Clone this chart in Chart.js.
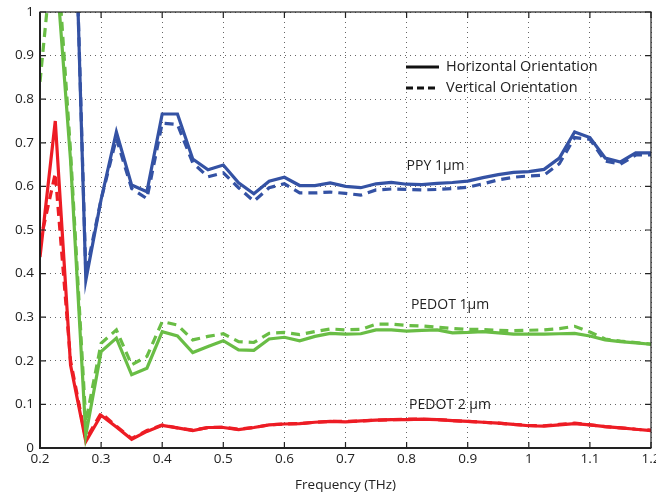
<!DOCTYPE html>
<html lang="en">
<head>
    <meta charset="UTF-8">
    <title>Frequency (THz)</title>
    <script src="https://cdn.jsdelivr.net/npm/chart.js"></script>
    <style>
        body { margin: 0; background: #fff; }
        #wrap { width: 656px; height: 493px; }
    </style>
</head>
<body>
    <div id="wrap"><canvas id="chart" width="656" height="493"></canvas></div>

    <script>
        // frequency points (THz)
        const freq = [0.2, 0.225, 0.25, 0.275, 0.3, 0.325, 0.35, 0.375, 0.4, 0.425,
            0.45, 0.475, 0.5, 0.525, 0.55, 0.575, 0.6, 0.625, 0.65, 0.675,
            0.7, 0.725, 0.75, 0.775, 0.8, 0.825, 0.85, 0.875, 0.9, 0.925,
            0.95, 0.975, 1.0, 1.025, 1.05, 1.075, 1.1, 1.125, 1.15, 1.175, 1.2];

        // PPY 1um
        const ppyH = [1.8, 1.9, 1.6, 0.385, 0.57, 0.725, 0.603, 0.588, 0.766, 0.766,
            0.663, 0.638, 0.649, 0.608, 0.583, 0.612, 0.621, 0.602, 0.602, 0.608,
            0.600, 0.597, 0.606, 0.609, 0.605, 0.604, 0.607, 0.609, 0.612, 0.620,
            0.627, 0.632, 0.634, 0.639, 0.665, 0.725, 0.712, 0.665, 0.656, 0.677, 0.677];
        const ppyV = [1.8, 1.9, 1.6, 0.40, 0.57, 0.71, 0.595, 0.572, 0.745, 0.742,
            0.654, 0.622, 0.631, 0.597, 0.566, 0.597, 0.606, 0.585, 0.585, 0.587,
            0.584, 0.580, 0.592, 0.594, 0.593, 0.592, 0.593, 0.595, 0.598, 0.606,
            0.615, 0.621, 0.624, 0.626, 0.652, 0.712, 0.708, 0.658, 0.651, 0.672, 0.672];

        // PEDOT 1um
        const pedot1H = [1.1, 1.13, 0.66, 0.03, 0.221, 0.252, 0.168, 0.183, 0.267, 0.257,
            0.219, 0.233, 0.246, 0.225, 0.224, 0.250, 0.254, 0.246, 0.256, 0.263,
            0.261, 0.262, 0.271, 0.271, 0.268, 0.270, 0.271, 0.264, 0.265, 0.267,
            0.264, 0.261, 0.261, 0.261, 0.262, 0.263, 0.257, 0.248, 0.244, 0.241, 0.238];
        const pedot1V = [0.84, 1.2, 0.68, 0.06, 0.24, 0.271, 0.191, 0.21, 0.29, 0.282,
            0.248, 0.256, 0.262, 0.244, 0.242, 0.263, 0.265, 0.260, 0.267, 0.273,
            0.271, 0.272, 0.284, 0.284, 0.281, 0.280, 0.277, 0.274, 0.272, 0.272,
            0.270, 0.269, 0.270, 0.271, 0.274, 0.279, 0.266, 0.250, 0.245, 0.242, 0.238];

        // PEDOT 2um
        const pedot2H = [0.438, 0.75, 0.19, 0.015, 0.075, 0.048, 0.02, 0.038, 0.052, 0.046,
            0.040, 0.047, 0.047, 0.042, 0.047, 0.053, 0.055, 0.056, 0.059, 0.061,
            0.060, 0.062, 0.064, 0.065, 0.065, 0.066, 0.065, 0.063, 0.061, 0.059,
            0.057, 0.054, 0.051, 0.050, 0.053, 0.056, 0.053, 0.049, 0.046, 0.043, 0.040];
        const pedot2V = [0.47, 0.63, 0.20, 0.02, 0.08, 0.05, 0.022, 0.04, 0.053, 0.046,
            0.041, 0.047, 0.048, 0.043, 0.047, 0.053, 0.055, 0.056, 0.059, 0.061,
            0.061, 0.062, 0.064, 0.065, 0.066, 0.066, 0.065, 0.063, 0.061, 0.059,
            0.057, 0.054, 0.052, 0.051, 0.054, 0.057, 0.053, 0.049, 0.046, 0.043, 0.041];

        const curveLabels = [
            { text: 'PPY 1\u03bcm', x: 0.8, y: 0.647 },
            { text: 'PEDOT 1\u03bcm', x: 0.807, y: 0.328 },
            { text: 'PEDOT 2 \u03bcm', x: 0.804, y: 0.099 }
        ];
        const legendItems = [
            { text: 'Horizontal Orientation', dash: [] },
            { text: 'Vertical Orientation', dash: [7, 4] }
        ];

        const BLUE = '#3452a4';
        const GREEN = '#69bd45';
        const RED = '#ed1c24';
        const FONT = '"Open Sans", "DejaVu Sans", sans-serif';

        function pts(ys) {
            return freq.map((f, i) => ({ x: f, y: ys[i] }));
        }
        function series(ys, color, dashed) {
            return {
                data: pts(ys),
                borderColor: color,
                borderWidth: 3.2,
                borderDash: dashed ? [9, 6] : [],
                pointRadius: 0,
                tension: 0,
                fill: false
            };
        }

        // box, inward ticks, legend and curve labels
        const decor = {
            id: 'decor',
            afterDraw(chart) {
                const ctx = chart.ctx;
                const a = chart.chartArea;
                const xs = chart.scales.x, ys = chart.scales.y;
                ctx.save();
                ctx.strokeStyle = '#222';
                ctx.lineWidth = 1.2;
                ctx.setLineDash([]);
                ctx.strokeRect(a.left, a.top, a.right - a.left, a.bottom - a.top);
                ctx.beginPath();
                xs.ticks.forEach(t => {
                    const px = xs.getPixelForValue(t.value);
                    ctx.moveTo(px, a.bottom); ctx.lineTo(px, a.bottom - 6);
                    ctx.moveTo(px, a.top); ctx.lineTo(px, a.top + 6);
                });
                ys.ticks.forEach(t => {
                    const py = ys.getPixelForValue(t.value);
                    ctx.moveTo(a.left, py); ctx.lineTo(a.left + 6, py);
                    ctx.moveTo(a.right, py); ctx.lineTo(a.right - 6, py);
                });
                ctx.stroke();
                ctx.lineWidth = 2;
                ctx.beginPath();
                ctx.moveTo(a.left, a.top); ctx.lineTo(a.left, a.bottom); ctx.lineTo(a.right, a.bottom);
                ctx.stroke();

                // legend
                ctx.font = '14.5px ' + FONT;
                ctx.fillStyle = '#222';
                ctx.textBaseline = 'middle';
                legendItems.forEach((it, i) => {
                    const y = 67 + i * 21;
                    ctx.strokeStyle = '#111';
                    ctx.lineWidth = 3;
                    ctx.setLineDash(it.dash);
                    ctx.beginPath();
                    ctx.moveTo(406, y); ctx.lineTo(439, y);
                    ctx.stroke();
                    ctx.setLineDash([]);
                    ctx.fillText(it.text, 446, y);
                });

                // curve labels
                ctx.font = '14px ' + FONT;
                curveLabels.forEach(l => {
                    ctx.fillText(l.text, xs.getPixelForValue(l.x), ys.getPixelForValue(l.y));
                });
                ctx.restore();
            }
        };

        document.addEventListener('DOMContentLoaded', function() {
            const ctx = document.getElementById('chart').getContext('2d');
            new Chart(ctx, {
                type: 'line',
                data: {
                    datasets: [
                        series(ppyV, BLUE, true),
                        series(ppyH, BLUE, false),
                        series(pedot1V, GREEN, true),
                        series(pedot1H, GREEN, false),
                        series(pedot2V, RED, true),
                        series(pedot2H, RED, false)
                    ]
                },
                options: {
                    responsive: false,
                    animation: false,
                    layout: { padding: { top: 12, right: 5, left: 0, bottom: 0 } },
                    plugins: { legend: { display: false }, tooltip: { enabled: false } },
                    scales: {
                        x: {
                            type: 'linear',
                            min: 0.2, max: 1.2,
                            afterFit: s => { s.height = 45; s.paddingLeft = 0; s.paddingRight = 0; },
                            ticks: {
                                stepSize: 0.1,
                                padding: 3,
                                color: '#222',
                                font: { family: FONT, size: 13.5 },
                                maxRotation: 0,
                                callback: v => String(Number(v.toFixed(1)))
                            },
                            grid: { color: '#666', lineWidth: 1, drawTicks: false },
                            border: { display: false, dash: [1, 4] },
                            title: {
                                display: true,
                                text: 'Frequency (THz)',
                                color: '#222',
                                font: { family: FONT, size: 13.5 },
                                padding: { top: 2, bottom: 0 }
                            }
                        },
                        y: {
                            min: 0, max: 1,
                            afterFit: s => { s.width = 40; s.paddingTop = 0; s.paddingBottom = 0; },
                            ticks: {
                                stepSize: 0.1,
                                padding: 6,
                                color: '#222',
                                font: { family: FONT, size: 13.5 },
                                callback: v => String(Number(v.toFixed(1)))
                            },
                            grid: { color: '#666', lineWidth: 1, drawTicks: false },
                            border: { display: false, dash: [1, 4] }
                        }
                    }
                },
                plugins: [decor]
            });
        });
    </script>
</body>
</html>
